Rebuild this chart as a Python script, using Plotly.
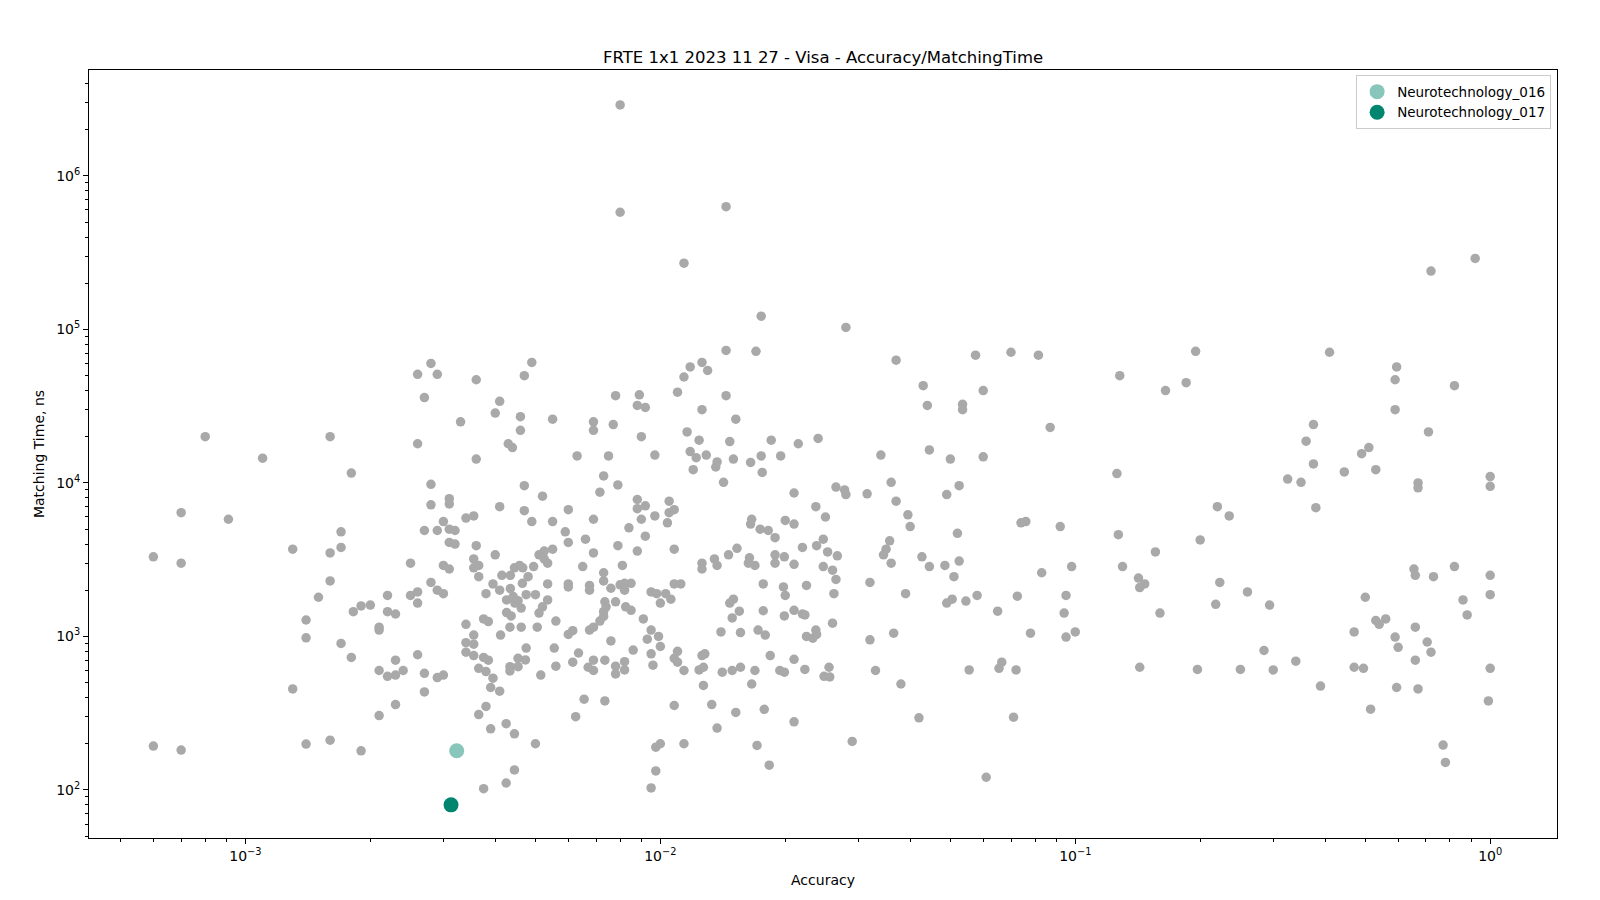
import plotly.graph_objects as go

# ---- data: accuracy (x) and matching time in ns (y) ----
acc_left = [8.0e-4, 1.6e-3, 1.1e-3, 7.0e-4, 9.1e-4, 6.0e-4, 7.0e-4, 1.3e-3, 1.6e-3, 1.6e-3,
            1.5e-3, 1.4e-3, 1.4e-3, 1.3e-3, 6.0e-4, 7.0e-4, 1.4e-3, 1.6e-3]
time_left = [2.0e4, 2.0e4, 1.45e4, 6.4e3, 5.8e3, 3.3e3, 3.0e3, 3.7e3, 3.5e3, 2.3e3,
             1.8e3, 1.28e3, 980, 455, 193, 182, 199, 211]

acc_2 = [2.8e-3, 2.6e-3, 2.9e-3, 3.6e-3, 2.7e-3, 4.1e-3, 4.0e-3, 4.6e-3, 4.6e-3, 3.3e-3,
         2.6e-3, 4.3e-3, 4.4e-3, 3.6e-3, 4.9e-3, 4.7e-3, 1.8e-3, 2.8e-3, 2.8e-3, 3.1e-3,
         3.1e-3, 4.1e-3, 4.7e-3, 4.7e-3, 4.9e-3, 3.4e-3, 3.55e-3, 3.0e-3, 2.7e-3, 2.9e-3,
         3.1e-3, 3.2e-3, 3.1e-3, 3.2e-3, 3.6e-3, 4.0e-3, 2.5e-3, 1.7e-3, 1.7e-3, 3.0e-3,
         3.1e-3, 3.55e-3, 3.55e-3, 3.65e-3, 4.45e-3, 4.58e-3, 4.66e-3]
time_2 = [6.0e4, 5.1e4, 5.1e4, 4.7e4, 3.6e4, 3.4e4, 2.85e4, 2.7e4, 2.2e4, 2.5e4,
          1.8e4, 1.8e4, 1.7e4, 1.43e4, 6.1e4, 5.0e4, 1.16e4, 9.8e3, 7.2e3, 7.9e3,
          7.3e3, 7.0e3, 9.6e3, 6.6e3, 5.6e3, 5.9e3, 6.1e3, 5.6e3, 4.9e3, 4.9e3,
          5.0e3, 4.9e3, 4.1e3, 4.0e3, 3.9e3, 3.4e3, 3.0e3, 4.8e3, 3.8e3, 2.9e3,
          2.75e3, 3.2e3, 2.8e3, 2.9e3, 2.8e3, 2.9e3, 2.8e3]

acc_3 = [1.44e-2, 1.18e-2, 1.26e-2, 1.3e-2, 1.14e-2, 1.1e-2, 1.44e-2, 7.8e-3, 8.9e-3, 8.8e-3,
         9.2e-3, 1.26e-2, 5.5e-3, 6.9e-3, 6.9e-3, 7.7e-3, 9.0e-3, 1.16e-2, 1.24e-2, 1.47e-2,
         6.3e-3, 7.5e-3, 9.7e-3, 1.18e-2, 1.22e-2, 1.29e-2, 1.2e-2, 1.37e-2, 1.36e-2, 1.42e-2,
         7.3e-3, 7.9e-3, 7.15e-3, 5.2e-3, 6.0e-3, 5.5e-3, 6.9e-3, 8.8e-3, 8.8e-3, 9.2e-3,
         9.0e-3, 9.7e-3, 1.05e-2, 1.05e-2, 1.08e-2, 1.04e-2, 8.4e-3, 5.9e-3, 6.6e-3, 6.0e-3,
         5.5e-3, 7.9e-3, 9.2e-3, 8.8e-3, 1.08e-2, 6.9e-3, 5.1e-3, 5.25e-3, 5.25e-3, 5.35e-3,
         4.95e-3, 6.5e-3, 7.3e-3, 8.1e-3, 1.26e-2, 1.26e-2, 1.35e-2, 1.37e-2, 1.46e-2]
time_3 = [7.3e4, 5.7e4, 6.1e4, 5.4e4, 4.9e4, 3.9e4, 3.7e4, 3.7e4, 3.75e4, 3.2e4,
          3.1e4, 3.0e4, 2.6e4, 2.5e4, 2.2e4, 2.4e4, 2.0e4, 2.15e4, 1.9e4, 1.86e4,
          1.5e4, 1.5e4, 1.52e4, 1.6e4, 1.46e4, 1.52e4, 1.22e4, 1.37e4, 1.27e4, 1.01e4,
          1.11e4, 9.7e3, 8.7e3, 8.2e3, 6.7e3, 5.6e3, 5.8e3, 7.8e3, 6.8e3, 7.1e3,
          5.8e3, 6.1e3, 7.6e3, 6.4e3, 6.7e3, 5.5e3, 5.1e3, 4.8e3, 4.3e3, 4.1e3,
          3.7e3, 3.9e3, 4.5e3, 3.6e3, 3.7e3, 3.5e3, 3.4e3, 3.6e3, 3.2e3, 3.0e3,
          2.85e3, 2.85e3, 2.6e3, 2.9e3, 3.0e3, 2.75e3, 3.2e3, 2.9e3, 3.4e3]

acc_4 = [1.75e-2, 2.8e-2, 1.7e-2, 3.7e-2, 4.3e-2, 4.4e-2, 1.52e-2, 1.85e-2, 2.15e-2, 2.4e-2,
         1.5e-2, 1.65e-2, 1.75e-2, 1.95e-2, 1.76e-2, 3.4e-2, 4.45e-2, 3.6e-2, 2.1e-2, 2.65e-2,
         2.78e-2, 2.8e-2, 3.15e-2, 3.7e-2, 3.95e-2, 4.0e-2, 2.37e-2, 2.5e-2, 1.66e-2, 1.65e-2,
         2.0e-2, 2.1e-2, 1.74e-2, 1.82e-2, 1.89e-2, 2.47e-2, 2.2e-2, 2.38e-2, 2.53e-2, 2.67e-2,
         3.57e-2, 3.5e-2, 3.45e-2, 3.6e-2, 4.27e-2, 4.45e-2, 4.85e-2, 5.25e-2, 1.53e-2, 1.64e-2,
         1.63e-2, 1.69e-2, 1.89e-2, 1.89e-2, 1.99e-2, 2.1e-2, 2.47e-2, 2.6e-2]
time_4 = [1.22e5, 1.03e5, 7.2e4, 6.3e4, 4.3e4, 3.2e4, 2.6e4, 1.9e4, 1.8e4, 1.95e4,
          1.43e4, 1.36e4, 1.5e4, 1.5e4, 1.17e4, 1.52e4, 1.64e4, 1.01e4, 8.6e3, 9.4e3,
          9.0e3, 8.4e3, 8.5e3, 7.6e3, 6.2e3, 5.2e3, 7.0e3, 6.0e3, 5.8e3, 5.4e3,
          5.7e3, 5.4e3, 5.0e3, 4.9e3, 4.4e3, 4.3e3, 3.8e3, 3.9e3, 3.55e3, 3.35e3,
          4.2e3, 3.7e3, 3.4e3, 3.0e3, 3.3e3, 2.85e3, 2.9e3, 3.1e3, 3.75e3, 3.25e3,
          3.0e3, 2.9e3, 3.4e3, 3.0e3, 3.3e3, 2.95e3, 2.85e3, 2.7e3]

acc_5 = [5.75e-2, 7.0e-2, 8.15e-2, 0.128, 0.195, 0.165, 0.185, 6.0e-2, 5.35e-2, 5.35e-2,
         8.7e-2, 5.0e-2, 6.0e-2, 0.126, 5.25e-2, 4.9e-2, 5.2e-2, 7.4e-2, 7.6e-2, 9.2e-2,
         0.127, 0.156, 0.2, 8.3e-2, 9.8e-2, 0.13]
time_5 = [6.8e4, 7.1e4, 6.8e4, 5.0e4, 7.2e4, 4.0e4, 4.5e4, 4.0e4, 3.25e4, 3.0e4,
          2.3e4, 1.43e4, 1.48e4, 1.15e4, 9.6e3, 8.4e3, 4.7e3, 5.5e3, 5.6e3, 5.2e3,
          4.6e3, 3.55e3, 4.25e3, 2.6e3, 2.85e3, 2.85e3]

acc_6 = [0.92, 0.72, 0.41, 0.595, 0.59, 0.82, 0.59, 0.71, 0.375, 0.36,
         0.375, 0.49, 0.51, 0.445, 0.53, 0.325, 0.35, 0.67, 0.67, 1.0,
         1.0, 0.38, 0.22, 0.235]
time_6 = [2.9e5, 2.4e5, 7.1e4, 5.7e4, 4.7e4, 4.3e4, 3.0e4, 2.15e4, 2.4e4, 1.87e4,
          1.33e4, 1.55e4, 1.7e4, 1.18e4, 1.22e4, 1.06e4, 1.01e4, 1.0e4, 9.3e3, 1.1e4,
          9.5e3, 6.9e3, 7.0e3, 6.1e3]

acc_top = [8.0e-3, 8.0e-3, 1.44e-2, 1.14e-2]
time_top = [2.9e6, 5.8e5, 6.3e5, 2.7e5]

acc_8 = [3.65e-3, 4.15e-3, 4.35e-3, 4.8e-3, 1.82e-3, 1.9e-3, 2.0e-3, 2.2e-3, 2.2e-3, 2.3e-3,
         2.1e-3, 2.1e-3, 2.5e-3, 2.6e-3, 2.6e-3, 2.8e-3, 2.9e-3, 3.0e-3, 1.7e-3, 1.8e-3,
         2.1e-3, 2.2e-3, 2.3e-3, 2.4e-3, 2.3e-3, 2.6e-3, 2.7e-3, 2.9e-3, 3.0e-3, 2.7e-3,
         2.3e-3, 2.1e-3, 1.9e-3, 3.4e-3, 3.55e-3, 3.4e-3, 3.55e-3, 3.75e-3, 3.85e-3, 3.4e-3,
         3.55e-3, 3.65e-3, 3.75e-3, 3.85e-3, 3.8e-3, 3.95e-3, 3.9e-3, 4.1e-3, 3.8e-3, 3.65e-3,
         3.9e-3, 4.25e-3, 4.45e-3, 4.45e-3, 4.25e-3, 3.75e-3, 3.8e-3, 3.95e-3, 4.1e-3, 4.35e-3,
         4.26e-3, 4.42e-3, 4.54e-3, 4.46e-3, 4.62e-3, 4.26e-3, 4.37e-3, 4.65e-3, 4.34e-3, 4.62e-3,
         4.12e-3, 4.75e-3, 4.54e-3, 4.34e-3, 4.34e-3, 4.54e-3, 4.73e-3]
time_8 = [2.45e3, 2.5e3, 2.5e3, 2.45e3, 1.45e3, 1.58e3, 1.6e3, 1.85e3, 1.45e3, 1.4e3,
          1.15e3, 1.1e3, 1.85e3, 1.95e3, 1.65e3, 2.25e3, 2.0e3, 1.9e3, 900, 730,
          600, 550, 560, 600, 700, 760, 575, 540, 560, 435,
          360, 305, 180, 1.2e3, 1.02e3, 910, 890, 1.3e3, 1.25e3, 790,
          750, 620, 730, 700, 590, 535, 465, 440, 350, 310,
          250, 270, 232, 135, 111, 102, 1.9e3, 2.2e3, 2.0e3, 2.05e3,
          1.73e3, 1.82e3, 1.71e3, 1.65e3, 1.53e3, 1.43e3, 1.36e3, 2.22e3, 1.15e3, 1.15e3,
          1.02e3, 840, 720, 635, 596, 635, 703]

acc_9 = [5.35e-3, 6.0e-3, 6.0e-3, 6.75e-3, 6.75e-3, 7.3e-3, 7.6e-3, 8.0e-3, 8.2e-3, 8.5e-3,
         8.2e-3, 4.75e-3, 5.0e-3, 5.35e-3, 5.2e-3, 5.1e-3, 5.6e-3, 5.05e-3, 6.0e-3, 6.15e-3,
         5.55e-3, 5.15e-3, 5.6e-3, 6.15e-3, 6.35e-3, 6.75e-3, 6.9e-3, 7.3e-3, 7.4e-3, 7.3e-3,
         7.15e-3, 7.35e-3, 7.8e-3, 8.25e-3, 8.5e-3, 7.6e-3, 6.9e-3, 7.35e-3, 6.7e-3, 6.9e-3,
         7.8e-3, 7.8e-3, 8.2e-3, 8.2e-3, 8.6e-3, 6.55e-3, 7.35e-3, 6.25e-3, 5.0e-3, 9.1e-3,
         9.5e-3, 9.9e-3, 9.3e-3, 1.0e-2, 9.5e-3, 9.6e-3, 1.08e-2, 1.1e-2, 1.1e-2, 1.14e-2,
         1.08e-2, 1.14e-2, 9.75e-3, 1.0e-2, 9.75e-3, 9.5e-3, 1.26e-2, 1.28e-2, 1.24e-2, 1.27e-2,
         1.27e-2, 1.33e-2, 1.37e-2, 1.41e-2, 1.4e-2, 1.08e-2, 1.12e-2, 9.5e-3, 9.8e-3, 1.03e-2,
         1.06e-2, 1.0e-2]
time_9 = [2.2e3, 2.2e3, 2.1e3, 2.15e3, 2.0e3, 2.3e3, 2.06e3, 2.17e3, 2.22e3, 2.22e3,
          2.0e3, 1.87e3, 1.87e3, 1.73e3, 1.56e3, 1.42e3, 1.26e3, 1.15e3, 1.03e3, 1.09e3,
          840, 560, 640, 680, 780, 1.1e3, 1.15e3, 1.45e3, 1.56e3, 1.35e3,
          1.26e3, 1.68e3, 1.68e3, 1.56e3, 1.48e3, 935, 700, 700, 630, 600,
          640, 570, 685, 605, 815, 390, 380, 300, 200, 1.3e3,
          1.1e3, 1.0e3, 960, 860, 770, 650, 720, 800, 680, 600,
          355, 200, 190, 200, 133, 103, 750, 770, 605, 630,
          480, 360, 253, 585, 1.07e3, 2.2e3, 2.2e3, 1.95e3, 1.9e3, 1.9e3,
          1.75e3, 1.65e3]

acc_10 = [2.65e-2, 1.77e-2, 1.98e-2, 2.0e-2, 2.25e-2, 2.62e-2, 3.2e-2, 3.9e-2, 1.47e-2, 1.5e-2,
          1.55e-2, 1.49e-2, 1.77e-2, 1.99e-2, 2.1e-2, 2.2e-2, 2.23e-2, 2.6e-2, 1.56e-2, 1.72e-2,
          1.79e-2, 2.25e-2, 2.33e-2, 2.37e-2, 2.38e-2, 3.2e-2, 3.65e-2, 1.84e-2, 2.1e-2, 1.49e-2,
          1.56e-2, 1.69e-2, 1.94e-2, 1.99e-2, 2.23e-2, 2.55e-2, 2.48e-2, 2.56e-2, 1.66e-2, 3.3e-2,
          3.8e-2, 1.52e-2, 1.78e-2, 2.1e-2, 4.2e-2, 2.9e-2, 1.71e-2, 1.83e-2]
time_10 = [2.35e3, 2.2e3, 2.1e3, 1.85e3, 2.15e3, 1.9e3, 2.25e3, 1.9e3, 1.65e3, 1.75e3,
           1.46e3, 1.32e3, 1.47e3, 1.36e3, 1.48e3, 1.4e3, 1.38e3, 1.22e3, 1.06e3, 1.1e3,
           1.02e3, 1.0e3, 975, 1.1e3, 1.03e3, 950, 1.05e3, 750, 710, 600,
           630, 600, 600, 585, 610, 630, 550, 545, 490, 600,
           490, 320, 335, 278, 295, 207, 195, 145]

acc_11 = [5.1e-2, 0.142, 0.147, 0.143, 4.9e-2, 5.05e-2, 5.45e-2, 5.8e-2, 7.25e-2, 9.5e-2,
          6.5e-2, 9.4e-2, 0.16, 7.8e-2, 9.5e-2, 0.1, 5.55e-2, 6.55e-2, 6.65e-2, 7.2e-2,
          0.143, 0.197, 7.1e-2, 6.1e-2]
time_11 = [2.45e3, 2.4e3, 2.2e3, 2.08e3, 1.65e3, 1.75e3, 1.7e3, 1.85e3, 1.83e3, 1.85e3,
           1.46e3, 1.42e3, 1.42e3, 1.05e3, 990, 1.07e3, 605, 620, 680, 605,
           630, 610, 298, 121]

acc_12 = [0.223, 0.26, 0.218, 0.294, 0.5, 0.53, 0.54, 0.56, 0.47, 0.66,
          0.59, 0.6, 0.705, 0.72, 0.66, 0.285, 0.34, 0.25, 0.3, 0.47,
          0.495, 0.39, 0.595, 0.67, 0.515, 1.0, 0.99, 0.77, 0.78, 0.66,
          0.73, 1.0, 1.0, 0.86, 0.88, 0.655, 0.82]
time_12 = [2.25e3, 1.95e3, 1.62e3, 1.6e3, 1.8e3, 1.27e3, 1.2e3, 1.3e3, 1.07e3, 1.15e3,
           990, 850, 920, 790, 700, 810, 690, 610, 605, 630,
           620, 475, 465, 455, 336, 620, 380, 196, 151, 2.5e3,
           2.45e3, 2.5e3, 1.87e3, 1.73e3, 1.38e3, 2.75e3, 2.85e3]

# highlighted algorithms
acc_016 = [3.23e-3]
time_016 = [180]
acc_017 = [3.13e-3]
time_017 = [80]

x_tick_vals = [1e-3, 1e-2, 1e-1, 1e0]
x_tick_text = ["10<sup>\u22123</sup>", "10<sup>\u22122</sup>", "10<sup>\u22121</sup>", "10<sup>0</sup>"]
y_tick_vals = [1e2, 1e3, 1e4, 1e5, 1e6]
y_tick_text = ["10<sup>2</sup>", "10<sup>3</sup>", "10<sup>4</sup>", "10<sup>5</sup>", "10<sup>6</sup>"]

# ---- assemble ----
acc_all = (acc_left + acc_2 + acc_3 + acc_4 + acc_5 + acc_6 + acc_top +
           acc_8 + acc_9 + acc_10 + acc_11 + acc_12)
time_all = (time_left + time_2 + time_3 + time_4 + time_5 + time_6 + time_top +
            time_8 + time_9 + time_10 + time_11 + time_12)

minor_x = [k * 10.0 ** d for d in range(-4, 1) for k in range(2, 10)]
minor_y = [k * 10.0 ** d for d in range(1, 7) for k in range(2, 10)]

FONT = "DejaVu Sans"

fig = go.Figure()
fig.add_trace(go.Scatter(x=acc_all, y=time_all, mode="markers",
                         marker=dict(color="#a9a9a9", size=9.5, line=dict(width=0)),
                         showlegend=False, hoverinfo="skip"))
fig.add_trace(go.Scatter(x=acc_016, y=time_016, mode="markers", name="Neurotechnology_016",
                         marker=dict(color="#88c6bb", size=15, line=dict(width=0))))
fig.add_trace(go.Scatter(x=acc_017, y=time_017, mode="markers", name="Neurotechnology_017",
                         marker=dict(color="#00856f", size=15, line=dict(width=0))))

axis_common = dict(
    type="log", showgrid=False, zeroline=False,
    showline=True, mirror=True, linecolor="black", linewidth=1,
    ticks="outside", ticklen=5, tickwidth=1, tickcolor="black",
    tickfont=dict(family=FONT, size=14, color="black"),
)

fig.update_layout(
    width=1600, height=900,
    margin=dict(l=89, r=43, t=70, b=62),
    paper_bgcolor="white", plot_bgcolor="white",
    font=dict(family=FONT, size=14, color="black"),
    title=dict(text="FRTE 1x1 2023 11 27 - Visa - Accuracy/MatchingTime",
               x=0.5, xref="paper", xanchor="center",
               y=1 - 57 / 900, yref="container", yanchor="middle",
               font=dict(family=FONT, size=16.5, color="black")),
    xaxis=dict(axis_common, range=[-3.377, 0.161],
               tickmode="array", tickvals=x_tick_vals, ticktext=x_tick_text,
               minor=dict(tickmode="array", tickvals=minor_x, ticks="outside",
                          ticklen=3, tickwidth=1, tickcolor="black", showgrid=False),
               title=dict(text="Accuracy", standoff=12,
                          font=dict(family=FONT, size=14, color="black"))),
    yaxis=dict(axis_common, range=[1.687, 6.69],
               tickmode="array", tickvals=y_tick_vals, ticktext=y_tick_text,
               minor=dict(tickmode="array", tickvals=minor_y, ticks="outside",
                          ticklen=3, tickwidth=1, tickcolor="black", showgrid=False),
               title=dict(text="Matching Time, ns", standoff=8,
                          font=dict(family=FONT, size=14, color="black"))),
    legend=dict(x=0.996, xanchor="right", y=0.993, yanchor="top",
                bgcolor="rgba(255,255,255,0.8)", bordercolor="#cccccc", borderwidth=1,
                font=dict(family=FONT, size=13.5, color="black"),
                tracegroupgap=0, itemsizing="trace"),
    showlegend=True,
)

fig.write_html("out.html", config={"displayModeBar": False},
               post_script="document.body.style.margin='0';")
